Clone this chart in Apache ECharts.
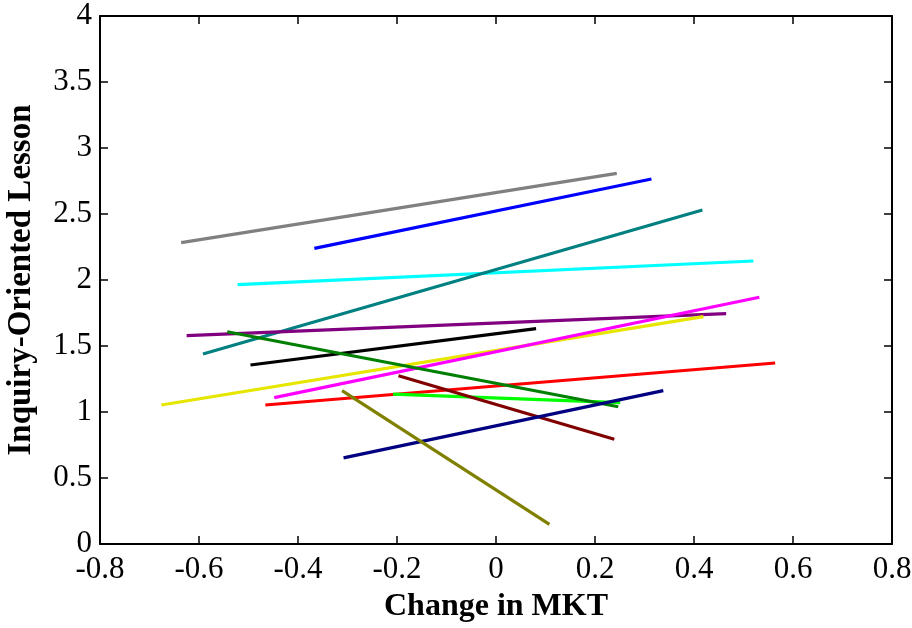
<!DOCTYPE html>
<html>
<head>
<meta charset="utf-8">
<script src="https://cdn.jsdelivr.net/npm/echarts@6/dist/echarts.min.js"></script>
<style>
  html, body { margin: 0; padding: 0; background: #fff; }
  #chart { width: 912px; height: 628px; }
</style>
</head>
<body>
<div id="chart"></div>
<script>
// One fitted line per group: start and end points (Change in MKT, Inquiry-Oriented Lesson)
const groups = ['gray', 'blue', 'cyan', 'teal', 'purple', 'black', 'yellow', 'magenta',
                'red', 'lime', 'maroon', 'green', 'navy', 'olive'];
const xStart = [-0.636, -0.367, -0.522, -0.592, -0.625, -0.496, -0.676, -0.448,
                -0.466, -0.208, -0.197, -0.543, -0.308, -0.311];
const yStart = [2.283, 2.240, 1.965, 1.439, 1.578, 1.356, 1.053, 1.109,
                1.053, 1.136, 1.275, 1.608, 0.652, 1.162];
const xEnd   = [0.244, 0.314, 0.520, 0.417, 0.465, 0.081, 0.419, 0.532,
                0.564, 0.251, 0.239, 0.247, 0.338, 0.108];
const yEnd   = [2.808, 2.765, 2.144, 2.530, 1.745, 1.631, 1.722, 1.869,
                1.371, 1.071, 0.793, 1.040, 1.162, 0.149];

const xTicks = { min: -0.8, max: 0.8, step: 0.2 };
const yTicks = { min: 0, max: 4, step: 0.5 };

const palette = {
  gray: '#808080', blue: '#0000ff', cyan: '#00ffff', teal: '#008080',
  purple: '#800080', black: '#000000', yellow: '#e6e600', magenta: '#ff00ff',
  red: '#ff0000', lime: '#00ff00', maroon: '#800000', green: '#008000',
  navy: '#000080', olive: '#808000'
};

const serif = '"Liberation Serif", "Times New Roman", serif';

const series = groups.map((g, i) => ({
  name: g,
  type: 'line',
  xAxisIndex: 0,
  yAxisIndex: 0,
  data: [[xStart[i], yStart[i]], [xEnd[i], yEnd[i]]],
  showSymbol: false,
  symbol: 'none',
  silent: true,
  animation: false,
  lineStyle: { color: palette[g], width: 3.2, cap: 'butt' },
  z: 2 + i
}));

function valueAxis(range, pos, primary, extra) {
  return Object.assign({
    type: 'value',
    position: pos,
    min: range.min,
    max: range.max,
    interval: range.step,
    splitLine: { show: false },
    axisLine: { show: true, onZero: false, lineStyle: { color: '#000', width: 2 } },
    axisTick: { show: true, inside: true, length: 8, lineStyle: { color: '#000', width: 1.5 } },
    axisLabel: primary
      ? { show: true, color: '#000', fontFamily: serif, fontSize: 31, margin: pos === 'bottom' ? 10 : 8 }
      : { show: false }
  }, extra || {});
}

const chart = echarts.init(document.getElementById('chart'), null, { renderer: 'canvas' });
chart.setOption({
  animation: false,
  backgroundColor: '#ffffff',
  grid: { left: 100, right: 20, top: 16, bottom: 84, containLabel: false, outerBoundsMode: 'none' },
  xAxis: [
    valueAxis(xTicks, 'bottom', true, {
      name: 'Change in MKT',
      nameLocation: 'middle',
      nameGap: 47,
      nameTextStyle: { fontFamily: serif, fontSize: 32, fontWeight: 'bold', color: '#000' }
    }),
    valueAxis(xTicks, 'top', false)
  ],
  yAxis: [
    valueAxis(yTicks, 'left', true, {
      name: 'Inquiry-Oriented Lesson',
      nameLocation: 'middle',
      nameGap: 62,
      nameRotate: 90,
      nameTextStyle: { fontFamily: serif, fontSize: 33, fontWeight: 'bold', color: '#000' }
    }),
    valueAxis(yTicks, 'right', false)
  ],
  series: series
});
</script>
</body>
</html>
